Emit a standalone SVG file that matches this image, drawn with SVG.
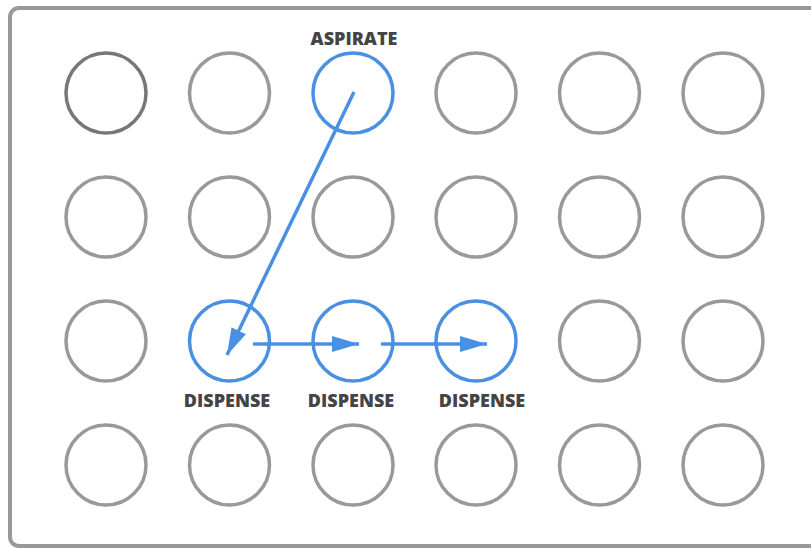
<svg xmlns="http://www.w3.org/2000/svg" width="811" height="548" viewBox="0 0 811 548">
<defs>
<style>
.well{fill:none;stroke:#999;stroke-width:3.5}
.dark{stroke:#777}
.sel{fill:none;stroke:#4a90e2;stroke-width:3.5}
.lbl{font-family:"Open Sans","Liberation Sans",sans-serif;font-weight:800;font-size:18px;fill:#444;text-anchor:middle}
.conn{stroke:#4a90e2;stroke-width:3.5;fill:none}
</style>
<marker id="ah" markerUnits="userSpaceOnUse" markerWidth="28" markerHeight="16" refX="27" refY="8" orient="auto">
<path d="M0,0 L27,8 L0,16 Z" fill="#4a90e2"/>
</marker>
</defs>
<rect x="10" y="8" width="820" height="538" rx="9" fill="#fff" stroke="#999" stroke-width="4"/>
<g id="wells">
<circle id="w-0-0" class="well dark" cx="106" cy="93" r="40"/>
<circle id="w-0-1" class="well" cx="229.5" cy="93" r="40"/>
<circle id="w-0-3" class="well" cx="476" cy="93" r="40"/>
<circle id="w-0-4" class="well" cx="599.5" cy="93" r="40"/>
<circle id="w-0-5" class="well" cx="723" cy="93" r="40"/>
<circle id="w-1-0" class="well" cx="106" cy="217" r="40"/>
<circle id="w-1-1" class="well" cx="229.5" cy="217" r="40"/>
<circle id="w-1-2" class="well" cx="353" cy="217" r="40"/>
<circle id="w-1-3" class="well" cx="476" cy="217" r="40"/>
<circle id="w-1-4" class="well" cx="599.5" cy="217" r="40"/>
<circle id="w-1-5" class="well" cx="723" cy="217" r="40"/>
<circle id="w-2-0" class="well" cx="106" cy="341" r="40"/>
<circle id="w-2-4" class="well" cx="599.5" cy="341" r="40"/>
<circle id="w-2-5" class="well" cx="723" cy="341" r="40"/>
<circle id="w-3-0" class="well" cx="106" cy="465" r="40"/>
<circle id="w-3-1" class="well" cx="229.5" cy="465" r="40"/>
<circle id="w-3-2" class="well" cx="353" cy="465" r="40"/>
<circle id="w-3-3" class="well" cx="476" cy="465" r="40"/>
<circle id="w-3-4" class="well" cx="599.5" cy="465" r="40"/>
<circle id="w-3-5" class="well" cx="723" cy="465" r="40"/>
</g>
<g id="aspirate">
<circle class="sel" cx="353" cy="93" r="40"/>
<text class="lbl" x="354" y="45">ASPIRATE</text>
</g>
<g id="dispense1">
<circle class="sel" cx="229.5" cy="341" r="40"/>
<text class="lbl" x="227" y="407">DISPENSE</text>
</g>
<g id="dispense2">
<circle class="sel" cx="353" cy="341" r="40"/>
<text class="lbl" x="351" y="407">DISPENSE</text>
</g>
<g id="dispense3">
<circle class="sel" cx="476" cy="341" r="40"/>
<text class="lbl" x="482" y="407">DISPENSE</text>
</g>
<g id="connectors">
<line class="conn" x1="354" y1="92" x2="227" y2="355" marker-end="url(#ah)"/>
<line class="conn" x1="253" y1="344" x2="359" y2="344" marker-end="url(#ah)"/>
<line class="conn" x1="381" y1="344" x2="487" y2="344" marker-end="url(#ah)"/>
</g>
</svg>
